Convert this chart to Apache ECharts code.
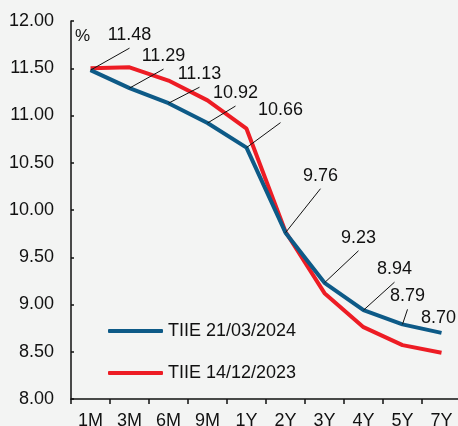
<!DOCTYPE html>
<html>
<head>
<meta charset="utf-8">
<script src="https://cdn.jsdelivr.net/npm/echarts@6/dist/echarts.min.js"></script>
<style>
html,body{margin:0;padding:0;background:#f3f4f3;}
#c{width:458px;height:426px;}
</style>
</head>
<body>
<div id="c"></div>
<script>
const categories = ['1M','3M','6M','9M','1Y','2Y','3Y','4Y','5Y','7Y'];
const tiieMar2024 = [11.48, 11.29, 11.13, 10.92, 10.66, 9.76, 9.23, 8.94, 8.79, 8.70];
const tiieDec2023 = [11.50, 11.51, 11.37, 11.16, 10.86, 9.77, 9.12, 8.76, 8.57, 8.49];
const seriesNames = ['TIIE 21/03/2024', 'TIIE 14/12/2023'];
const yTicks = [8, 8.5, 9, 9.5, 10, 10.5, 11, 11.5, 12];

// label placement (layout only): offset of label centre from point, and whether a leader line is drawn
const labelOffsets = [[39,-35,1],[34,-32,1],[31,-29,1],[28,-30,1],[34,-38,1],[35,-57,1],[34,-45,1],[31,-41,1],[5,-28,1],[-3,-15,0]];

const FONT = '"Liberation Sans", Arial, sans-serif';
const FS = 18;
const chart = echarts.init(document.getElementById('c'));
chart.setOption({
  backgroundColor: '#f3f4f3',
  animation: false,
  textStyle: { fontFamily: FONT },
  grid: { left: 71, top: 21, width: 390, height: 378, outerBoundsMode: 'none', containLabel: false },
  legend: {
    left: 108, top: 322, orient: 'vertical', padding: 0,
    itemWidth: 55, itemHeight: 4, itemGap: 24, itemTextGap: 4,
    icon: 'roundRect',
    textStyle: { fontSize: FS, color: '#111', fontFamily: FONT },
    data: seriesNames
  },
  graphic: [{
    type: 'text', left: 75, top: 28,
    style: { text: '%', fontSize: 17, fill: '#111', fontFamily: FONT }
  }],
  xAxis: {
    type: 'category', data: categories, boundaryGap: true,
    axisLine: { lineStyle: { color: '#111', width: 1.5 } },
    axisTick: { show: true, length: 5, inside: false, lineStyle: { color: '#111', width: 1.5 } },
    axisLabel: { fontSize: FS, color: '#111', margin: 13, interval: 0, fontFamily: FONT, hideOverlap: false },
    splitLine: { show: false }
  },
  yAxis: {
    type: 'value', min: yTicks[0], max: yTicks[yTicks.length-1], interval: yTicks[1]-yTicks[0],
    axisLine: { show: true, lineStyle: { color: '#111', width: 1.5 } },
    axisTick: { show: true, inside: true, length: 3, lineStyle: { color: '#111', width: 1.5 } },
    axisLabel: { fontSize: FS, color: '#111', margin: 17, formatter: v => v.toFixed(2), fontFamily: FONT },
    splitLine: { show: false }
  },
  series: [
    {
      name: seriesNames[1], type: 'line', data: tiieDec2023, z: 2,
      symbol: 'none',
      lineStyle: { color: '#ed1c24', width: 4 },
      itemStyle: { color: '#ed1c24' }
    },
    {
      name: seriesNames[0], type: 'line', data: tiieMar2024, z: 3,
      symbol: 'none',
      lineStyle: { color: '#0d5a87', width: 4 },
      itemStyle: { color: '#0d5a87' }
    },
    {
      name: 'labels', type: 'custom', z: 5, silent: true,
      data: tiieMar2024.map((v, i) => [i, v]),
      renderItem: function (params, api) {
        const i = params.dataIndex;
        const p = api.coord([api.value(0), api.value(1)]);
        const o = labelOffsets[i];
        const lx = p[0] + o[0], ly = p[1] + o[1];
        const children = [{
          type: 'text', x: lx, y: ly,
          style: { text: api.value(1).toFixed(2), fontSize: FS, fill: '#111', fontFamily: FONT, align: 'center', verticalAlign: 'middle' }
        }];
        if (o[2]) children.push({
          type: 'line',
          shape: { x1: p[0], y1: p[1], x2: lx, y2: ly + 13 },
          style: { stroke: '#111', lineWidth: 1 }
        });
        return { type: 'group', children: children };
      }
    }
  ]
});
</script>
</body>
</html>
